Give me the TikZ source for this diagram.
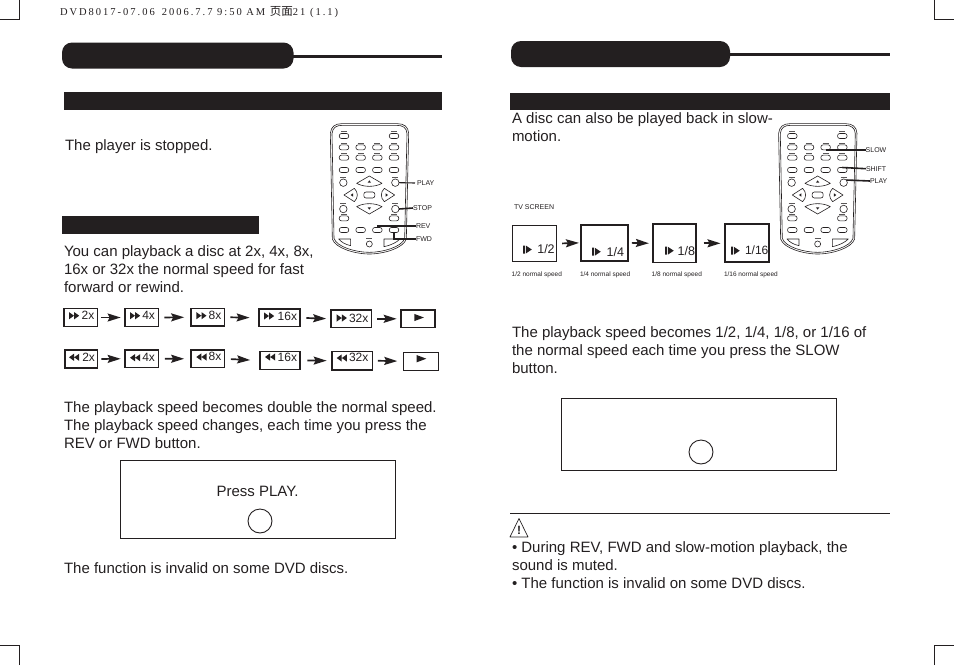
\documentclass[tikz,border=0pt]{standalone}
\usepackage{fontspec}
\setmainfont{Liberation Sans}
\newfontfamily\hdrfont[LetterSpace=19]{Liberation Serif}
\newfontfamily\cjkfont{Noto Sans CJK SC}
\usetikzlibrary{arrows.meta,calc}
\definecolor{ink}{HTML}{231F20}
\tikzset{
  every node/.style={text=ink,inner sep=0pt,outer sep=0pt},
  body/.style={anchor=west,align=left,font=\fontsize{15}{18.3}\selectfont},
  spdbox/.style={draw=ink,line width=1.7,minimum width=#1-1.7},
  spdbox/.default=35,
  spdtxt/.style={anchor=west,font=\fontsize{12}{12}\selectfont},
  slowtxt/.style={anchor=west,font=\fontsize{12.5}{13}\selectfont},
  small/.style={font=\fontsize{7}{8}\selectfont},
  smallw/.style={anchor=west,small},
  rmk/.style={anchor=west,font=\fontsize{7}{8}\selectfont},
  arr/.style={draw=ink,line width=1.7,-{Stealth[length=13,width=8,inset=2]}},
  crop/.style={draw=ink,line width=.7},
  bar/.style={fill=ink,draw=none},
  rbtn/.style={draw=ink,line width=.6,rounded corners=2.2,minimum width=9.5,minimum height=5},
  rcirc/.style={draw=ink,line width=.6,circle,minimum size=7.5},
  rpad/.style={draw=ink,line width=.6,line join=round},
  rtag/.style={draw=ink!75,line width=.8},
  lead/.style={draw=ink,line width=1.1},
  leadb/.style={draw=ink,line width=1.6},
  frame/.style={draw=ink,line width=1.1}
}
\newcommand\ffg[2]{\fill[ink] (#1,#2) ++(0,-3.6) -- ++(5,3.6) -- ++(-5,3.6) -- cycle (#1,#2) ++(5.2,-3.6) -- ++(5,3.6) -- ++(-5,3.6) -- cycle;}
\newcommand\rwg[2]{\fill[ink] (#1,#2) ++(5,-3.6) -- ++(-5,3.6) -- ++(5,3.6) -- cycle (#1,#2) ++(10.2,-3.6) -- ++(-5,3.6) -- ++(5,3.6) -- cycle;}
\newcommand\plg[2]{\fill[ink] (#1,#2) ++(0,-3.6) -- ++(9.6,3.6) -- ++(-9.6,3.6) -- cycle;}
\newcommand\slg[2]{\fill[ink] (#1,#2) ++(0,-4) rectangle ++(1.8,8) (#1,#2) ++(2.8,-4) -- ++(6,4) -- ++(-6,4) -- cycle;}
\newcommand\sarr[4]{\draw[arr,shorten <=#3,shorten >=#4] (#1.east) -- (#2.west);}
\newcommand\rtg[2]{\draw[rtag] (#1-9,#2) -- (#1+9,#2);}
\newcommand\remote{%
  \draw[ink,line width=.6] (31,55) .. controls (33,35) and (45,26) .. (65,26) -- (232,26) .. controls (252,26) and (265,35) .. (266,55) -- (259,372) .. controls (250,400) and (190,417) .. (148,417) .. controls (106,417) and (46,400) .. (37,372) -- cycle;
  \draw[ink,line width=.6] (36,56) .. controls (38,38) and (48,31) .. (67,31) -- (230,31) .. controls (249,31) and (260,38) .. (261,56) -- (254,370) .. controls (246,396) and (188,412) .. (148,412) .. controls (108,412) and (50,396) .. (42,370) -- cycle;
  \node[rbtn] (sb) at (72,63) {}; \node[rbtn] (mu) at (222,63) {};
  \rtg{72}{50}\rtg{222}{50}
  \foreach \x/\n in {72/a,122/b,172/c,222/d}{
    \node[rbtn] (r1\n) at (\x,97) {};
    \node[rbtn] (r2\n) at (\x,128) {};
    \node[rbtn] (r3\n) at (\x,165) {};
    \node[rbtn] (r4\n) at (\x,345) {};
    \rtg{\x}{84}\rtg{\x}{116}
  }
  \node[rcirc] (disp) at (70,203) {}; \rtg{70}{186}
  \node[rcirc] (play) at (226,203) {}; \rtg{226}{186}
  \node[rcirc] (rep) at (70,282) {}; \rtg{70}{264}
  \node[rcirc] (stop) at (226,282) {}; \rtg{226}{264}
  \node[rbtn] (setup) at (72,310) {}; \rtg{72}{298}
  \node[rbtn] (zoom) at (222,310) {}; \rtg{222}{298}
  \draw[rpad] (110,205) -- (148,183) -- (186,205) .. controls (165,217) and (131,217) .. (110,205) -- cycle;
  \draw[rpad] (110,275) -- (148,297) -- (186,275) .. controls (165,263) and (131,263) .. (110,275) -- cycle;
  \draw[rpad] (72,240) -- (103,220) .. controls (115,232) and (115,248) .. (103,260) -- cycle;
  \draw[rpad] (224,240) -- (193,220) .. controls (181,232) and (181,248) .. (193,260) -- cycle;
  \fill[ink] (143,203) -- (148,196) -- (153,203) -- cycle (143,277) -- (148,284) -- (153,277) -- cycle (92,240) -- (99,235) -- (99,245) -- cycle (204,240) -- (197,235) -- (197,245) -- cycle;
  \node[rbtn,minimum width=11,minimum height=6] (enter) at (148,240) {};
  \draw[rpad] (56,372) -- (92,372) -- (92,392) .. controls (75,388) and (65,382) .. (56,372) -- cycle;
  \draw[rpad] (240,372) -- (192,372) -- (192,395) .. controls (215,390) and (230,382) .. (240,372) -- cycle;
  \node[rcirc,minimum size=6] (menu) at (148,387) {}; \rtg{148}{371}
}
\begin{document}
\begin{tikzpicture}[x=1pt,y=-1pt]
\useasboundingbox (0,0) rectangle (954,665);
% crop marks
\coordinate (c1) at (19.5,0); \coordinate (c2) at (19.5,19.5); \coordinate (c3) at (0,19.5);
\draw[crop] (c1) -- (c2) -- (c3);
\coordinate (c4) at (19.5,665); \coordinate (c5) at (19.5,645); \coordinate (c6) at (0,645);
\draw[crop] (c4) -- (c5) -- (c6);
\coordinate (c7) at (934,0); \coordinate (c8) at (934,19.5); \coordinate (c9) at (954,19.5);
\draw[crop] (c7) -- (c8) -- (c9);
\coordinate (c10) at (934,665); \coordinate (c11) at (934,645); \coordinate (c12) at (954,645);
\draw[crop] (c10) -- (c11) -- (c12);
% header
\node[anchor=west,font=\fontsize{10.5}{11}\selectfont] (hdr) at (60,12) {\hdrfont DVD8017-07.06\hspace{7pt}2006.7.7 9:50 AM {\cjkfont\fontsize{11.5}{11}\selectfont 页面}21 (1.1)};
% title pills and bars
\fill[ink,rounded corners=10] (62,42.5) rectangle (293.5,68.5);
\draw[ink,line width=3] (290,56.3) -- (442,56.3);
\fill[bar] (64,92) rectangle (442,110);
\fill[bar] (62,216) rectangle (259,234);
\fill[ink,rounded corners=10] (511,41) rectangle (730,67);
\draw[ink,line width=3] (725,54.3) -- (890,54.3);
\fill[bar] (510,93) rectangle (890,110);
% left body
\node[body] (t1) at (65,146.5) {The player is stopped.};
\node[body] (t2) at (64,269) {You can playback a disc at 2x, 4x, 8x,\\16x or 32x the normal speed for fast\\forward or rewind.};
\node[body] (t3) at (64,425) {The playback speed becomes double the normal speed.\\The playback speed changes, each time you press the\\REV or FWD button.};
\node[body] (t4) at (64,568) {The function is invalid on some DVD discs.};
% left remote
\begin{scope}[shift={(320,115)},x=.33333pt,y=-.33333pt,name prefix=L-]
\remote
\end{scope}
\node[rmk] (lplay) at (417,183) {PLAY};
\node[rmk] (lstop) at (413,208) {STOP};
\node[rmk] (lrev) at (416,226) {REV};
\node[rmk] (lfwd) at (416,239) {FWD};
\coordinate (lplayend) at (415,183);
\draw[lead] (L-play.east) -- (lplayend);
\draw[leadb] (L-stop.east) -- (lstop.west);
\draw[lead] (L-r4c.north) |- (lrev.west);
\draw[lead] (L-r4d.south) |- (lfwd.west);
% speed row 1
\node[spdbox=35,minimum height=17.8] (a1) at (80.8,317.5) {};
\node[spdbox=35,minimum height=17.8] (a2) at (141.8,317.5) {};
\node[spdbox=35,minimum height=17.3] (a3) at (207.8,317.2) {};
\node[spdbox=42.4,minimum height=17.3] (a4) at (279.5,317.8) {};
\node[spdbox=42,minimum height=17.3] (a5) at (351.3,318.8) {};
\node[spdbox=35.7,minimum height=17.3] (a6) at (418.2,318.8) {};
\ffg{69}{315.7}\node[spdtxt] (a1t) at (81.7,315) {2x};
\ffg{130}{315.7}\node[spdtxt] (a2t) at (142.3,315) {4x};
\ffg{196.3}{315.7}\node[spdtxt] (a3t) at (208.7,315) {8x};
\ffg{264}{316}\node[spdtxt] (a4t) at (277.7,316) {16x};
\ffg{336.7}{318}\node[spdtxt] (a5t) at (349,318) {32x};
\plg{414.3}{317.5}
\sarr{a1}{a2}{3.5}{4.5}\sarr{a2}{a3}{6}{7}\sarr{a3}{a4}{6}{9.5}\sarr{a4}{a5}{6.5}{5}\sarr{a5}{a6}{6}{4.5}
% speed row 2
\node[spdbox=34,minimum height=18.3] (b1) at (81.3,359) {};
\node[spdbox=35,minimum height=17.6] (b2) at (141.8,358.7) {};
\node[spdbox=35,minimum height=17.3] (b3) at (207.8,358.8) {};
\node[spdbox=41.4,minimum height=17.9] (b4) at (280,360.5) {};
\node[spdbox=42,minimum height=18.3] (b5) at (352.3,360.7) {};
\node[draw=ink,line width=1,minimum width=35,minimum height=18] (b6) at (421.3,361.2) {};
\rwg{69}{357.3}\node[spdtxt] (b1t) at (82.3,357) {2x};
\rwg{130}{357.7}\node[spdtxt] (b2t) at (142.3,357.7) {4x};
\rwg{196.3}{357}\node[spdtxt] (b3t) at (208.7,356.7) {8x};
\rwg{265}{357}\node[spdtxt] (b4t) at (277.7,357) {16x};
\rwg{336.7}{358}\node[spdtxt] (b5t) at (349,357) {32x};
\plg{416.7}{358.7}
\sarr{b1}{b2}{4}{4.5}\sarr{b2}{b3}{6.5}{7}\sarr{b3}{b4}{6.5}{10}\sarr{b4}{b5}{7.5}{5.5}\sarr{b5}{b6}{5.5}{6.5}
% press box left
\node[frame,minimum width=274.5,minimum height=78] (pl) at (257.8,499.5) {};
\node[font=\fontsize{15}{16}\selectfont] (plt) at (257.5,491) {Press PLAY.};
\node[draw=ink,line width=.9,circle,minimum size=24] (plc) at (260,521) {};
% right body
\node[body] (u1) at (512,127.2) {A disc can also be played back in slow-\\motion.};
\node[smallw] (tvs) at (514,207.5) {TV SCREEN};
\begin{scope}[shift={(768.3,115)},x=.33333pt,y=-.33333pt,name prefix=R-]
\remote
\end{scope}
\node[rmk] (rslow) at (865.7,150.5) {SLOW};
\node[rmk] (rshift) at (866,168.7) {SHIFT};
\node[rmk] (rplay) at (870,181) {PLAY};
\draw[leadb] (R-r1c.south) -- (R-r1c.south -| rslow.west);
\draw[leadb] (R-r3d.north) -- (rshift.west);
\draw[leadb] (R-play.north east) -- (rplay.west);
% TV boxes
\node[draw=ink,line width=1,minimum width=44,minimum height=36.5] (s1) at (534.2,243.6) {};
\node[draw=ink,line width=2,minimum width=46.5,minimum height=36.5] (s2) at (604.7,242.8) {};
\node[draw=ink,line width=1.3,minimum width=43.2,minimum height=38.7] (s3) at (674.5,243.3) {};
\node[draw=ink,line width=2,minimum width=44,minimum height=38] (s4) at (747,243.3) {};
\slg{523}{249.5}\node[slowtxt] (s1t) at (537.3,249.3) {1/2};
\slg{592}{251.7}\node[slowtxt] (s2t) at (606.7,251.7) {1/4};
\slg{665}{250.7}\node[slowtxt] (s3t) at (677.7,250.7) {1/8};
\slg{731}{250.7}\node[slowtxt,font=\fontsize{12}{13}\selectfont] (s4t) at (745,250.7) {1/16};
\sarr{s1}{s2}{6}{2.5}\sarr{s2}{s3}{4}{4}\sarr{s3}{s4}{7.5}{4.5}
\node[smallw,font=\fontsize{6.5}{8}\selectfont] (n1) at (511.7,275) {1/2 normal speed};
\node[smallw,font=\fontsize{6.5}{8}\selectfont] (n2) at (580,275) {1/4 normal speed};
\node[smallw,font=\fontsize{6.5}{8}\selectfont] (n3) at (651.7,275) {1/8 normal speed};
\node[smallw,font=\fontsize{6.5}{8}\selectfont] (n4) at (724,275) {1/16 normal speed};
\node[body] (u2) at (512,350) {The playback speed becomes 1/2, 1/4, 1/8, or 1/16 of\\the normal speed each time you press the SLOW\\button.};
\node[frame,minimum width=274.5,minimum height=72] (pr) at (699,434.5) {};
\node[draw=ink,line width=.9,circle,minimum size=24] (prc) at (701,452) {};
% note
\coordinate (rl1) at (510,513); \coordinate (rl2) at (890,513);
\draw[ink,line width=.9] (rl1) -- (rl2);
\draw[ink,line width=.7,line join=round] (510,537) -- (519,518.5) -- (528,537) -- cycle;
\node[font=\bfseries\fontsize{12}{12}\selectfont] (warn) at (519,530) {!};
\node[body] (u3) at (512,565) {• During REV, FWD and slow-motion playback, the\\sound is muted.\\• The function is invalid on some DVD discs.};
\end{tikzpicture}
\end{document}
